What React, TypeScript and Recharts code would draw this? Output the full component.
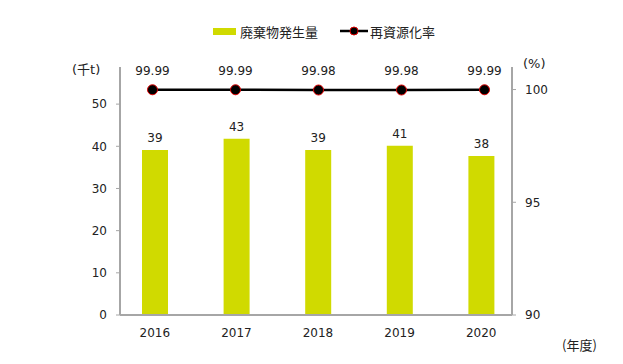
import { ComposedChart, Bar, Line, XAxis, YAxis, LabelList } from 'recharts';

const years = ['2016', '2017', '2018', '2019', '2020'];
const wasteAmount = [39.1, 41.8, 39.1, 40.1, 37.7];
const wasteLabels = ['39', '43', '39', '41', '38'];
const recycleRate = [99.99, 99.99, 99.98, 99.98, 99.99];

const leftTicks = [0, 10, 20, 30, 40, 50];
const rightTicks = [90, 95, 100];

const BAR_COLOR = '#d0da00';
const AXIS_COLOR = '#a6a6a6';
const TEXT_COLOR = '#222';
const NUM_FONT = '"DejaVu Sans", "Noto Sans CJK JP", sans-serif';
const JP_FONT = '"Noto Sans CJK JP", "DejaVu Sans", sans-serif';

const data = years.map((year, i) => ({
  year,
  waste: wasteAmount[i],
  wasteLabel: wasteLabels[i],
  rate: recycleRate[i],
}));

const tickStyle = { fill: TEXT_COLOR, fontSize: 12, fontFamily: NUM_FONT };

const RateDot = (props: any) => {
  const { cx, cy } = props;
  if (cx == null || cy == null) return null;
  return <circle cx={cx} cy={cy} r={5} fill="#000" stroke="#e00000" strokeWidth={1} />;
};

export default function App() {
  return (
    <div style={{ position: 'absolute', left: 0, top: 0, width: 623, height: 364, background: '#fff' }}>
      <ComposedChart
        width={623}
        height={364}
        data={data}
        margin={{ top: 67, right: 51, bottom: 19, left: 60 }}
      >
        <XAxis
          dataKey="year"
          height={30}
          padding={{ left: -6, right: -10 }}
          axisLine={{ stroke: AXIS_COLOR, strokeWidth: 2 }}
          tickLine={false}
          tickSize={0}
          tickMargin={13}
          tick={tickStyle}
        />
        <XAxis xAxisId="line" dataKey="year" hide padding={{ left: -9, right: -14 }} />
        <YAxis
          yAxisId="left"
          width={60}
          domain={[0, 58.8]}
          ticks={leftTicks}
          allowDataOverflow
          axisLine={{ stroke: AXIS_COLOR, strokeWidth: 2 }}
          tickLine={{ stroke: AXIS_COLOR }}
          tickSize={4}
          tickMargin={9}
          tick={tickStyle}
        />
        <YAxis
          yAxisId="right"
          orientation="right"
          width={60}
          domain={[90, 101]}
          ticks={rightTicks}
          allowDataOverflow
          axisLine={{ stroke: AXIS_COLOR, strokeWidth: 2 }}
          tickLine={{ stroke: AXIS_COLOR }}
          tickSize={4}
          tickMargin={9}
          tick={tickStyle}
        />
        <Bar yAxisId="left" dataKey="waste" fill={BAR_COLOR} barSize={26} isAnimationActive={false}>
          <LabelList
            dataKey="wasteLabel"
            position="top"
            offset={8}
            fill={TEXT_COLOR}
            fontSize={12}
            fontFamily={NUM_FONT}
          />
        </Bar>
        <Line
          yAxisId="right"
          xAxisId="line"
          dataKey="rate"
          stroke="#000"
          strokeWidth={2.5}
          dot={<RateDot />}
          activeDot={false}
          isAnimationActive={false}
        >
          <LabelList
            dataKey="rate"
            position="top"
            offset={15}
            fill={TEXT_COLOR}
            fontSize={12}
            fontFamily={NUM_FONT}
            formatter={(v: any) => Number(v).toFixed(2)}
          />
        </Line>
      </ComposedChart>

      {/* legend */}
      <div style={{ position: 'absolute', left: 213, top: 22, height: 18, display: 'flex', alignItems: 'center', fontFamily: JP_FONT, fontSize: 13, color: TEXT_COLOR, whiteSpace: 'nowrap' }}>
        <span style={{ display: 'inline-block', width: 23, height: 7, background: BAR_COLOR, marginRight: 4 }} />
        <span>廃棄物発生量</span>
        <svg width={28} height={12} style={{ marginLeft: 22, marginRight: 2 }}>
          <line x1={0} y1={6} x2={28} y2={6} stroke="#000" strokeWidth={2.5} />
          <circle cx={14} cy={6} r={4} fill="#000" stroke="#e00000" strokeWidth={1} />
        </svg>
        <span>再資源化率</span>
      </div>

      {/* axis units */}
      <div style={{ position: 'absolute', left: 72, top: 61, fontFamily: NUM_FONT, fontSize: 13, color: TEXT_COLOR, lineHeight: '18px' }}>(千t)</div>
      <div style={{ position: 'absolute', left: 523, top: 55, fontFamily: NUM_FONT, fontSize: 13, color: TEXT_COLOR, lineHeight: '18px' }}>(%)</div>
      <div style={{ position: 'absolute', left: 562, top: 336, fontFamily: JP_FONT, fontSize: 13, color: TEXT_COLOR, lineHeight: '18px' }}>(年度)</div>
    </div>
  );
}
